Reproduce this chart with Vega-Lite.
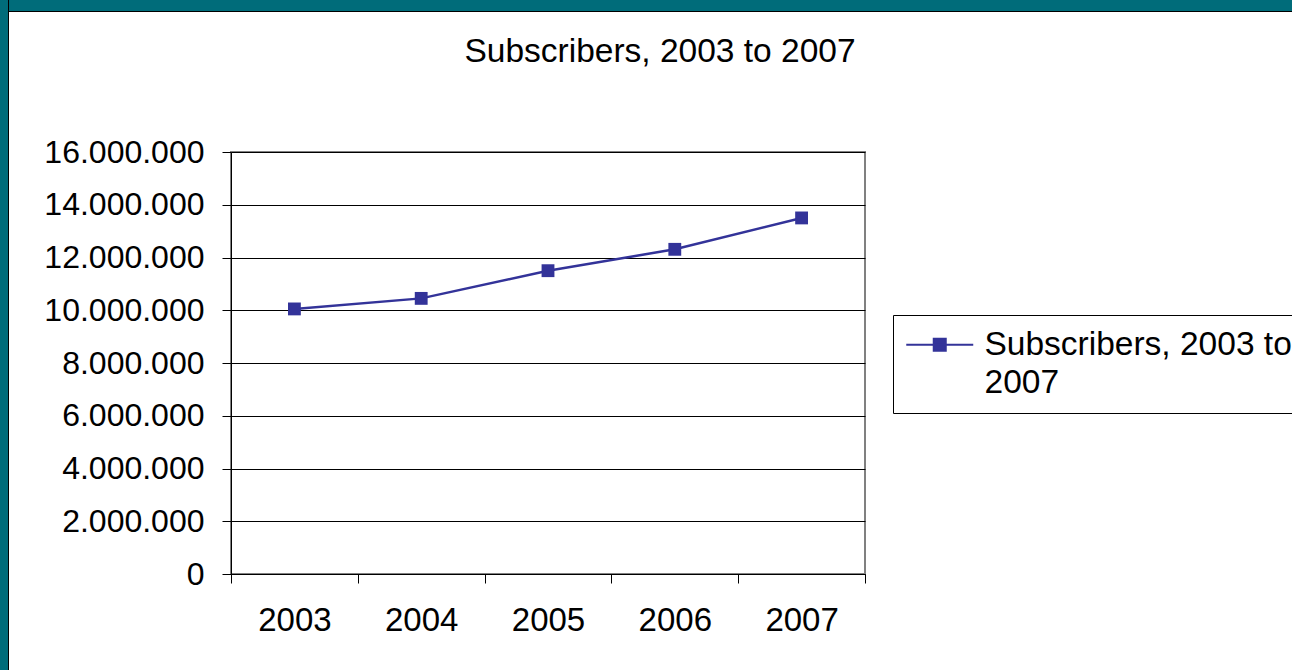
{
  "$schema": "https://vega.github.io/schema/vega-lite/v6.json",
  "background": "white",
  "padding": 0,
  "spacing": 0,
  "bounds": "flush",
  "config": {
    "font": "Liberation Sans",
    "locale": {"number": {"decimal": ",", "thousands": ".", "grouping": [3], "currency": ["", " €"]}}
  },
  "hconcat": [
    {"width": 8, "height": 670, "view": {"fill": "#006C7A", "stroke": null}, "data": {"values": [{}]}, "mark": {"type": "point", "opacity": 0}, "encoding": {}},
    {"width": 1, "height": 670, "view": {"fill": "#000000", "stroke": null}, "data": {"values": [{}]}, "mark": {"type": "point", "opacity": 0}, "encoding": {}},
    {
      "spacing": 152,
      "bounds": "flush",
      "vconcat": [
        {
          "spacing": 0,
          "bounds": "flush",
          "vconcat": [
            {"width": 1283, "height": 11, "view": {"fill": "#006C7A", "stroke": null}, "data": {"values": [{}]}, "mark": {"type": "point", "opacity": 0}, "encoding": {}},
            {"width": 1283, "height": 1, "view": {"fill": "#000000", "stroke": null}, "data": {"values": [{}]}, "mark": {"type": "point", "opacity": 0}, "encoding": {}}
          ]
        },
        {
          "spacing": 0,
          "bounds": "flush",
          "hconcat": [
            {"width": 222, "height": 422, "view": {"stroke": null}, "data": {"values": [{}]}, "mark": {"type": "point", "opacity": 0}, "encoding": {}},
            {
              "width": 634,
              "height": 422,
              "view": {"stroke": "#808080", "strokeWidth": 2},
              "title": {
                "text": "Subscribers, 2003 to 2007",
                "fontSize": 33.5,
                "fontWeight": "normal",
                "font": "Liberation Sans",
                "color": "#000000",
                "anchor": "middle",
                "frame": "group",
                "baseline": "alphabetic",
                "dx": 112,
                "offset": 41
              },
              "data": {
                "values": [
                  {"year": "2003", "subscribers": 10050000, "series": "Subscribers, 2003 to 2007"},
                  {"year": "2004", "subscribers": 10450000, "series": "Subscribers, 2003 to 2007"},
                  {"year": "2005", "subscribers": 11500000, "series": "Subscribers, 2003 to 2007"},
                  {"year": "2006", "subscribers": 12310000, "series": "Subscribers, 2003 to 2007"},
                  {"year": "2007", "subscribers": 13500000, "series": "Subscribers, 2003 to 2007"}
                ]
              },
              "encoding": {
                "x": {
                  "field": "year",
                  "type": "ordinal",
                  "bandPosition": 0.5,
                  "scale": {"type": "band", "paddingInner": 0, "paddingOuter": 0},
                  "axis": {
                    "title": null,
                    "labelAngle": 0,
                    "labelFontSize": 33,
                    "labelFont": "Liberation Sans",
                    "labelColor": "#000000",
                    "tickBand": "extent",
                    "tickSize": 9,
                    "tickColor": "#000000",
                    "domainColor": "#000000",
                    "labelPadding": 21,
                    "grid": false
                  }
                },
                "y": {
                  "field": "subscribers",
                  "type": "quantitative",
                  "scale": {"domain": [0, 16000000], "nice": false},
                  "axis": {
                    "title": null,
                    "values": [0, 2000000, 4000000, 6000000, 8000000, 10000000, 12000000, 14000000, 16000000],
                    "format": ",d",
                    "labelFontSize": 32,
                    "labelFont": "Liberation Sans",
                    "labelColor": "#000000",
                    "tickSize": 9,
                    "tickColor": "#000000",
                    "domainColor": "#000000",
                    "labelPadding": 18,
                    "grid": true,
                    "gridColor": "#000000",
                    "gridOpacity": 1
                  }
                },
                "color": {
                  "field": "series",
                  "type": "nominal",
                  "scale": {"range": ["#333399"]},
                  "legend": {
                    "title": null,
                    "orient": "none",
                    "legendX": 893,
                    "legendY": 315,
                    "fillColor": "#ffffff",
                    "strokeColor": "#000000",
                    "padding": 13,
                    "symbolType": "M-2.233,0H2.233M-0.4,-0.4H0.4V0.4H-0.4Z",
                    "symbolSize": 900,
                    "symbolOffset": 17,
                    "symbolStrokeWidth": 2,
                    "symbolFillColor": "#333399",
                    "symbolStrokeColor": "#333399",
                    "labelFontSize": 33.5,
                    "labelFont": "Liberation Sans",
                    "labelColor": "#000000",
                    "labelLimit": 1000,
                    "labelOffset": 28,
                    "labelBaseline": "middle",
                    "labelExpr": "['Subscribers, 2003 to', '2007']",
                    "encode": {"labels": {"update": {"lineHeight": {"value": 38}}}}
                  }
                }
              },
              "layer": [
                {"mark": {"type": "line", "strokeWidth": 2.5}},
                {"mark": {"type": "point", "shape": "square", "filled": true, "size": 165, "opacity": 1}}
              ]
            }
          ]
        }
      ]
    }
  ]
}
